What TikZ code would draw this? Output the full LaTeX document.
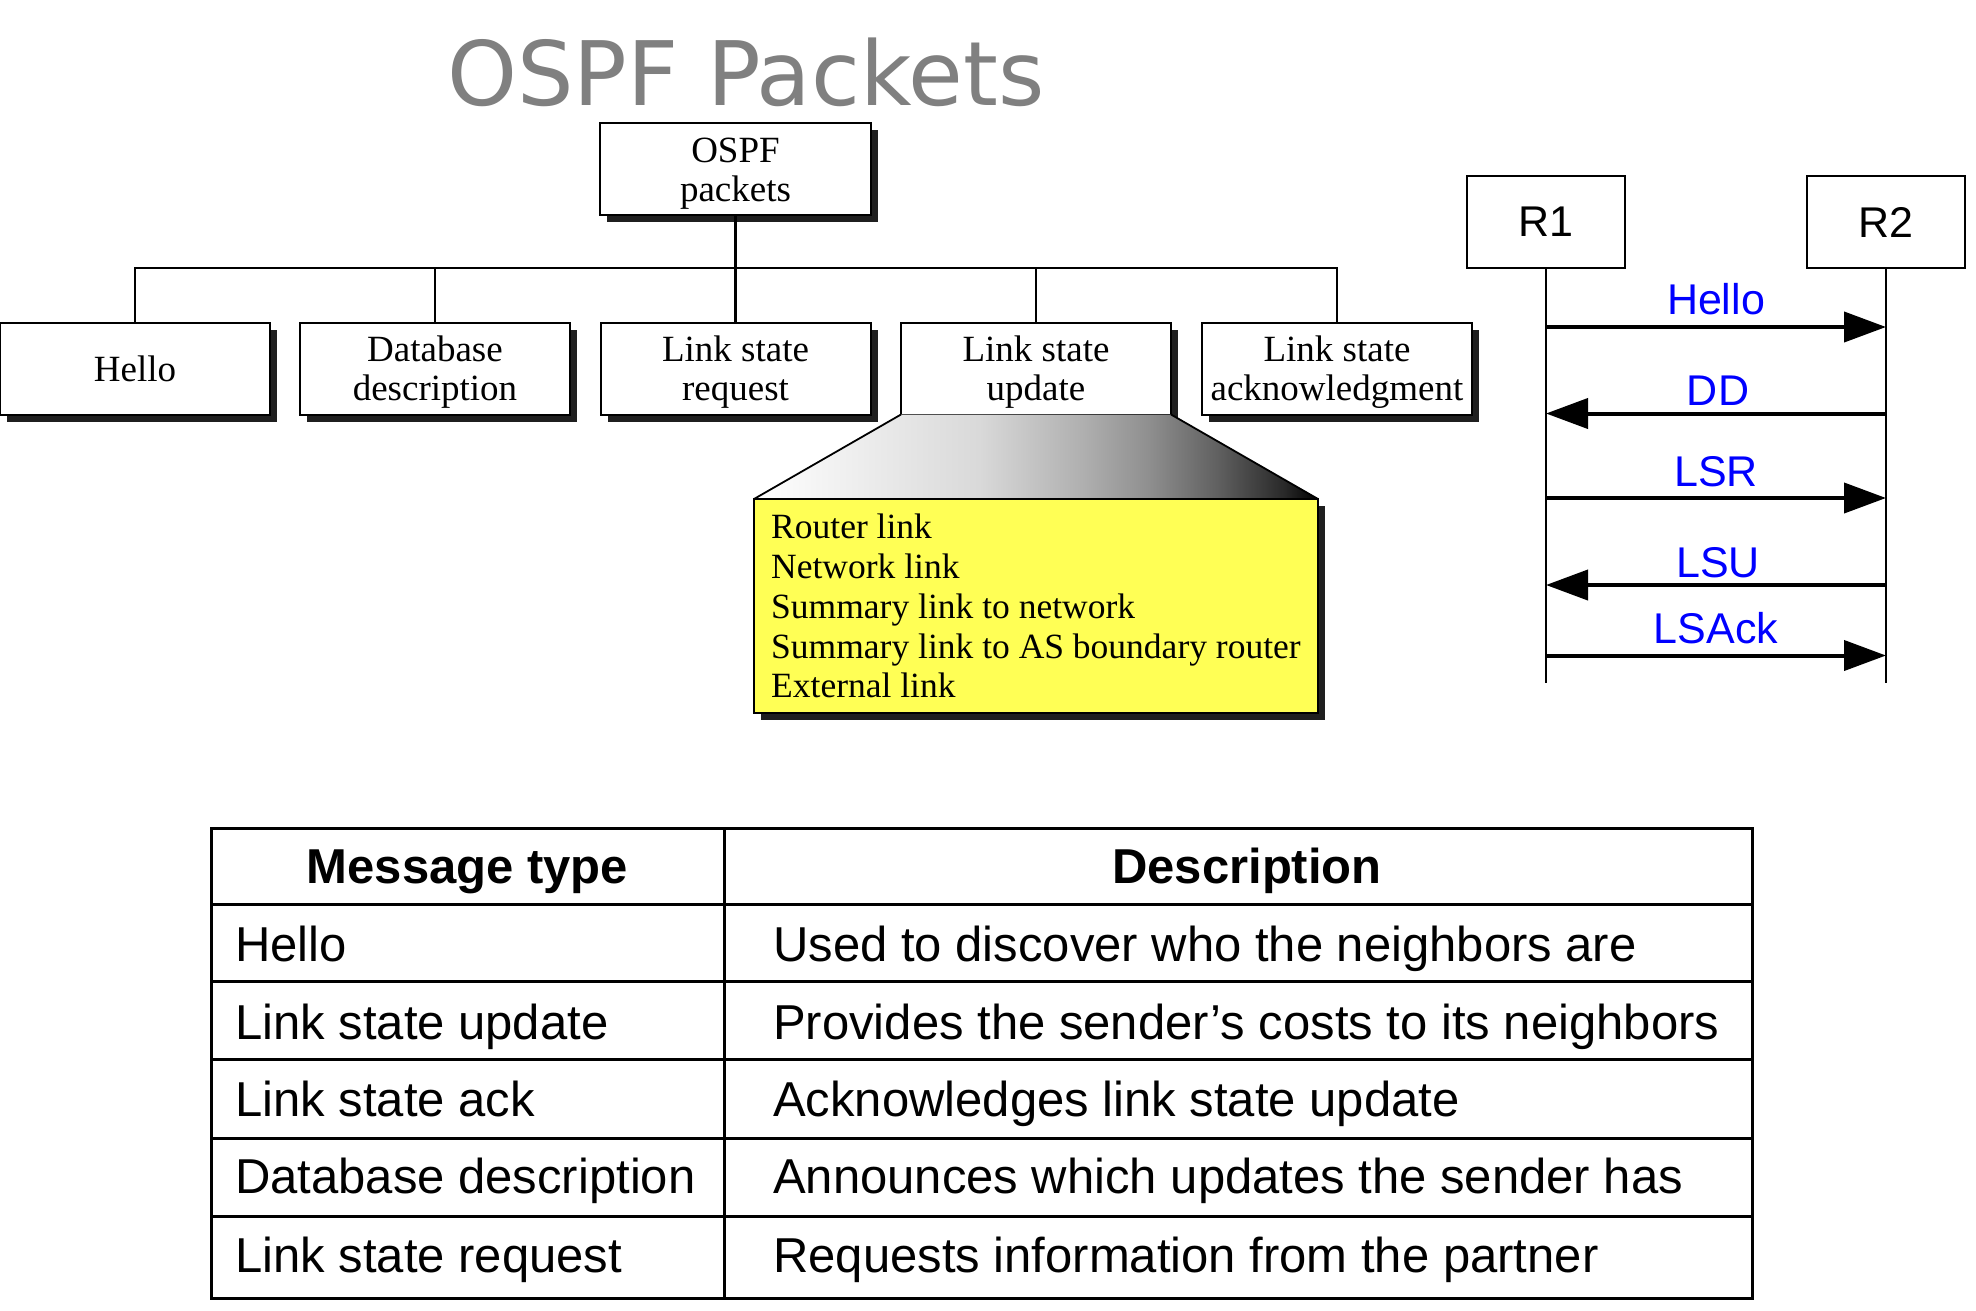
\documentclass[tikz,border=0pt]{standalone}
\usepackage{fontspec}
\setmainfont{Liberation Serif}
\newfontfamily\sansf{Liberation Sans}
\newfontfamily\titlef{DejaVu Sans}
\usetikzlibrary{arrows.meta,shadows}
\definecolor{titlegray}{RGB}{128,128,128}
\definecolor{lsyellow}{RGB}{255,255,85}
\definecolor{seqblue}{RGB}{0,0,255}
\newcommand{\tstrut}{\rule{0pt}{33pt}}
\pgfdeclarehorizontalshading{zoomshade}{100bp}{color(0bp)=(white); color(25bp)=(white); color(29bp)=(white!97!black); color(45bp)=(white!85!black); color(54bp)=(white!69!black); color(60bp)=(white!56!black); color(66bp)=(white!38!black); color(72bp)=(white!16!black); color(75bp)=(black); color(100bp)=(black)}
\begin{document}
\begin{tikzpicture}[x=1pt,y=-1pt,
  pbox/.style={draw, line width=2pt, fill=white, minimum width=270pt, minimum height=92pt,
    inner sep=0pt, outer sep=0pt, align=center, font=\fontsize{37}{39}\selectfont,
    drop shadow={shadow xshift=7pt, shadow yshift=-7pt, fill=black!88, opacity=1}},
  ybox/.style={draw, line width=2pt, fill=lsyellow, minimum width=564pt, minimum height=214pt,
    inner sep=0pt, outer sep=0pt,
    drop shadow={shadow xshift=7pt, shadow yshift=-7pt, fill=black!88, opacity=1}},
  yline/.style={anchor=base west, inner sep=0pt, font=\fontsize{35.5}{40}\selectfont},
  tree/.style={line width=2.5pt},
  rbox/.style={draw, line width=1.6pt, minimum width=158pt, minimum height=92pt, inner sep=0pt,
    outer sep=0pt, font=\sansf\fontsize{43}{43}\selectfont},
  life/.style={line width=1.6pt},
  msg/.style={line width=4pt, -{Triangle[length=42pt,width=30pt]}},
  lbl/.style={anchor=base, inner sep=0pt, text=seqblue, font=\sansf\fontsize{43}{43}\selectfont},
  tline/.style={line width=3pt},
  thead/.style={anchor=base, inner sep=0pt, font=\sansf\bfseries\fontsize{49}{49}\selectfont},
  tcell/.style={anchor=base west, inner sep=0pt, font=\sansf\fontsize{49}{49}\selectfont}
]
\useasboundingbox (0,0) rectangle (1976,1310);

% title
\node[anchor=base, inner sep=0pt, text=titlegray, font=\titlef\fontsize{89}{89}\selectfont] (title) at (746,105) {OSPF Packets};

% tree
\node[pbox, minimum width=271pt] (root) at (735.5,169) {\tstrut OSPF\\packets};
\node[pbox] (c1) at (135,368.5) {Hello};
\node[pbox] (c2) at (435,368.5) {\tstrut Database\\description};
\node[pbox] (c3) at (735.5,368.5) {\tstrut Link state\\request};
\node[pbox] (c4) at (1036,368.5) {\tstrut Link state\\update};
\node[pbox] (c5) at (1337,368.5) {\tstrut Link state\\acknowledgment};
\coordinate (bus) at (0,268);
\draw[tree] (c1.north) |- (c5.north |- bus) -- (c5.north);
\draw[tree] (c2.north) -- (c2.north |- bus);
\draw[tree] (c4.north) -- (c4.north |- bus);
\draw[tree] (root.south) -- (c3.north);

% zoom trapezoid and yellow box
\coordinate (ytl) at (754,499);
\coordinate (ytr) at (1318,499);
\shade[shading=zoomshade] (c4.south west) -- (c4.south east) -- (ytr) -- (ytl) -- cycle;
\draw[line width=1.8pt] (c4.south west) -- (ytl);
\draw[line width=1.8pt] (c4.south east) -- (ytr);
\node[ybox, anchor=north west] (lsabox) at (ytl) {};
\node[yline] (y1) at (771,538) {Router link};
\node[yline] (y2) at (771,578) {Network link};
\node[yline] (y3) at (771,618) {Summary link to network};
\node[yline] (y4) at (771,658) {Summary link to AS boundary router};
\node[yline] (y5) at (771,697) {External link};

% sequence diagram
\node[rbox] (r1) at (1546,222) {R1};
\node[rbox] (r2) at (1886,222) {R2};
\coordinate (r1end) at (1546,683);
\coordinate (r2end) at (1886,683);
\draw[life] (r1.south) -- (r1end);
\draw[life] (r2.south) -- (r2end);
\coordinate (m1a) at (1546,327); \coordinate (m1b) at (1886,327);
\coordinate (m2a) at (1546,413.5); \coordinate (m2b) at (1886,413.5);
\coordinate (m3a) at (1546,498); \coordinate (m3b) at (1886,498);
\coordinate (m4a) at (1546,585); \coordinate (m4b) at (1886,585);
\coordinate (m5a) at (1546,655.5); \coordinate (m5b) at (1886,655.5);
\draw[msg] (m1a) -- (m1b);
\draw[msg] (m2b) -- (m2a);
\draw[msg] (m3a) -- (m3b);
\draw[msg] (m4b) -- (m4a);
\draw[msg] (m5a) -- (m5b);
\node[lbl] (l1) at (1716,314) {Hello};
\node[lbl] (l2) at (1718,405) {DD};
\node[lbl] (l3) at (1716,486) {LSR};
\node[lbl] (l4) at (1718,577) {LSU};
\node[lbl] (l5) at (1716,643) {LSAck};

% table
\draw[tline] (211,828) rectangle (1752,1298.5);
\draw[tline] (724,828) -- (724,1298.5);
\foreach \yy in {904,981,1059,1138,1216} {\draw[tline] (211,\yy) -- (1752,\yy);}
\node[thead] (h1) at (467.5,883) {Message type};
\node[thead] (h2) at (1247,883) {Description};
\node[tcell] (a1) at (235,961) {Hello};
\node[tcell] (b1) at (773,961) {Used to discover who the neighbors are};
\node[tcell] (a2) at (235,1039) {Link state update};
\node[tcell] (b2) at (773,1039) {Provides the sender’s costs to its neighbors};
\node[tcell] (a3) at (235,1116) {Link state ack};
\node[tcell] (b3) at (773,1116) {Acknowledges link state update};
\node[tcell] (a4) at (235,1193) {Database description};
\node[tcell] (b4) at (773,1193) {Announces which updates the sender has};
\node[tcell] (a5) at (235,1272) {Link state request};
\node[tcell] (b5) at (773,1272) {Requests information from the partner};
\end{tikzpicture}
\end{document}
